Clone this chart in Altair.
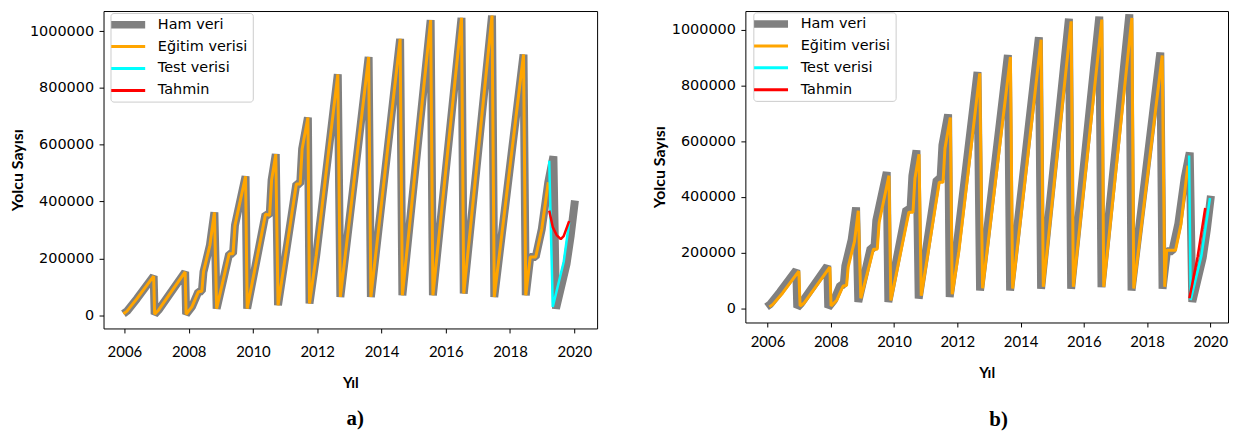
import altair as alt
import pandas as pd

# ---------------- data ----------------
series_names = ["Ham veri", "Eğitim verisi", "Test verisi", "Tahmin"]
series_colors = ["#808080", "#ffa500", "#00ffff", "#ff0000"]

x_ticks = [2006, 2008, 2010, 2012, 2014, 2016, 2018, 2020]
y_ticks = [0, 200000, 400000, 600000, 800000, 1000000]

# Ham veri (raw series, same in both panels)
raw_years = [2005.97, 2006.08, 2006.39, 2006.91, 2006.94, 2007.06, 2007.89, 2007.92,
             2008.10, 2008.30, 2008.41, 2008.46, 2008.66, 2008.80, 2008.87, 2009.26,
             2009.38, 2009.44, 2009.77, 2009.82, 2010.39, 2010.52, 2010.58, 2010.71,
             2010.78, 2011.35, 2011.47, 2011.53, 2011.71, 2011.76, 2011.97, 2012.64,
             2012.72, 2013.60, 2013.67, 2014.58, 2014.65, 2015.53, 2015.60, 2016.49,
             2016.56, 2017.44, 2017.51, 2018.42, 2018.49, 2018.63, 2018.80, 2018.99,
             2019.19, 2019.35, 2019.43, 2019.76, 2019.89, 2020.02]
raw_values = [5000, 14000, 58000, 137000, 3000, 17500, 152000, 3000,
              29000, 82000, 84000, 152000, 246000, 362000, 23000, 216000,
              216000, 316000, 489000, 23000, 355000, 352000, 475000, 567000,
              35000, 462000, 462000, 585000, 696000, 41000, 211000, 848000,
              64000, 909000, 64000, 973000, 70000, 1039000, 70000, 1047000,
              76000, 1055000, 64000, 918000, 70000, 205000, 205000, 304000,
              468000, 559000, 23000, 181000, 281000, 404000]

# panel a) training part = raw series up to the split
train_a_count = 49

# panel b) training fit (lagged)
train_b_years = [2006.06, 2006.17, 2006.48, 2006.99, 2007.03, 2007.15, 2007.97, 2008.01,
                 2008.19, 2008.39, 2008.50, 2008.55, 2008.75, 2008.87, 2008.95, 2009.35,
                 2009.47, 2009.53, 2009.84, 2009.90, 2010.47, 2010.60, 2010.66, 2010.79,
                 2010.86, 2011.43, 2011.55, 2011.61, 2011.78, 2011.84, 2012.05, 2012.71,
                 2012.80, 2013.68, 2013.75, 2014.65, 2014.72, 2015.60, 2015.67, 2016.57,
                 2016.63, 2017.52, 2017.58, 2018.48, 2018.56, 2018.62, 2018.90, 2019.07,
                 2019.29]
train_b_values = [5000, 14000, 55000, 133000, 8000, 18000, 148000, 8000,
                  29000, 80000, 82000, 148000, 240000, 350000, 36000, 212000,
                  212000, 308000, 476000, 28000, 345000, 345000, 465000, 553000,
                  45000, 452000, 452000, 573000, 685000, 50000, 205000, 843000,
                  72000, 902000, 71000, 964000, 77000, 1030000, 77000, 1036000,
                  77000, 1042000, 71000, 907000, 77000, 208000, 208000, 300000,
                  512000]

test_a_years = [2019.22, 2019.33, 2019.67, 2019.84]
test_a_values = [544000, 29000, 187000, 327000]
pred_a_years = [2019.22, 2019.33, 2019.45, 2019.58, 2019.67, 2019.84]
pred_a_values = [368000, 310000, 282000, 268000, 278000, 331000]

test_b_years = [2019.33, 2019.38, 2019.72, 2019.99]
test_b_values = [548000, 30000, 190000, 396000]
pred_b_years = [2019.34, 2019.60, 2019.84]
pred_b_values = [36000, 185000, 360000]


def frame(years, values, name):
    return pd.DataFrame({"year": years, "value": values, "series": name})


is_raw = "datum.value == 'Ham veri'"


def build_panel(dfs, x_domain, y_domain, width, height, legend_x, legend_y,
                x_label_pad, x_title_pad, letter, letter_offset, letter_dx):
    legend = alt.Legend(
        title=None, orient="none", legendX=legend_x, legendY=legend_y,
        direction="vertical",
        symbolType={"expr": is_raw + " ? 'M-1,-0.35H2.1V0.35H-1Z' : 'M-1,0H2.1'"},
        symbolSize=484,
        symbolStrokeWidth={"expr": is_raw + " ? 0 : 3"},
        symbolFillColor={"expr": is_raw + " ? '#808080' : 'transparent'"},
        labelFont="DejaVu Sans", labelFontSize=14.5, labelColor="black",
        labelOffset=28.6, labelExpr="datum.label + '  '",
        padding=4.5, rowPadding=7, strokeColor="#cccccc", fillColor="white",
        cornerRadius=3,
    )
    color = alt.Color("series:N",
                      scale=alt.Scale(domain=series_names, range=series_colors),
                      legend=legend)
    x = alt.X("year:Q",
              scale=alt.Scale(domain=x_domain, nice=False, zero=False),
              axis=alt.Axis(values=x_ticks, format="d", title="Yıl", grid=False,
                            domain=False, tickColor="black", tickSize=4.5,
                            labelFont="Lato", labelFontSize=15, labelColor="black",
                            labelPadding=x_label_pad, labelFlush=False,
                            labelOverlap=False,
                            titleFont="Lato", titleFontSize=15,
                            titleFontWeight="bold", titleColor="black",
                            titlePadding=x_title_pad))
    y = alt.Y("value:Q",
              scale=alt.Scale(domain=y_domain, nice=False, zero=False),
              axis=alt.Axis(values=y_ticks, format="d", title="Yolcu Sayısı",
                            grid=False, domain=False, tickColor="black",
                            tickSize=4.5, labelFont="DejaVu Sans",
                            labelFontSize=14.5, labelColor="black",
                            labelPadding=5.5, titleFont="Lato", titleFontSize=16,
                            titleFontWeight="bold", titleColor="black",
                            titlePadding=4))
    widths = [8, 3, 2.5, 2.5]
    layers = []
    for df, sw in zip(dfs, widths):
        layers.append(
            alt.Chart(df).mark_line(strokeJoin="bevel").encode(
                x=x, y=y, color=color, strokeWidth=alt.value(sw))
        )
    return alt.layer(*layers).properties(
        width=width, height=height,
        title=alt.TitleParams(letter, orient="bottom", anchor="middle",
                              font="Liberation Serif", fontSize=21,
                              fontWeight="bold", color="black",
                              offset=letter_offset, dx=letter_dx),
    )


raw_df_a = frame(raw_years, raw_values, "Ham veri")
train_df_a = frame(raw_years[:train_a_count], raw_values[:train_a_count], "Eğitim verisi")
test_df_a = frame(test_a_years, test_a_values, "Test verisi")
pred_df_a = frame(pred_a_years, pred_a_values, "Tahmin")

raw_df_b = frame(raw_years, raw_values, "Ham veri")
train_df_b = frame(train_b_years, train_b_values, "Eğitim verisi")
test_df_b = frame(test_b_years, test_b_values, "Test verisi")
pred_df_b = frame(pred_b_years, pred_b_values, "Tahmin")

panel_a = build_panel([raw_df_a, train_df_a, test_df_a, pred_df_a],
                      [2005.35, 2020.71], [-47000, 1071000], 496, 319,
                      7, 2, 11.8, 16, "a)", 18, 5)
panel_b = build_panel([raw_df_b, train_df_b, test_df_b, pred_df_b],
                      [2005.30, 2020.56], [-51000, 1066800], 485, 313,
                      8, 1.3, 8, 15.5, "b)", 29, 12)

chart = (
    alt.hconcat(panel_a, panel_b, spacing=52)
    .resolve_scale(color="independent")
    .resolve_legend(color="independent")
    .properties(padding=0, background="white")
    .configure_view(stroke="black", strokeWidth=1)
)

chart.save("out.html", embed_options={"renderer": "svg", "actions": False})
